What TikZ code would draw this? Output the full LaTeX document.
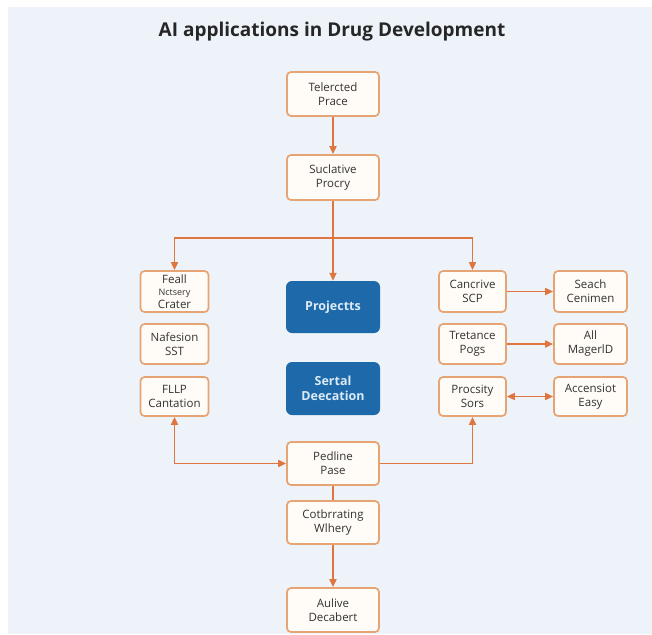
\documentclass[tikz,border=0pt]{standalone}
\usepackage{fontspec}
\setmainfont{Open Sans}
\usetikzlibrary{arrows.meta}
\definecolor{bgpanel}{HTML}{EDF3F8}
\definecolor{edgeor}{HTML}{E0763F}
\definecolor{boxline}{HTML}{E6A475}
\definecolor{boxfill}{HTML}{FFFCF7}
\definecolor{blueblk}{HTML}{1D69A9}
\definecolor{bluetxt}{HTML}{DCEAF6}
\definecolor{txtgray}{HTML}{333333}
\tikzset{
  stagebox/.style={draw=boxline, fill=boxfill, line width=1.7pt, rounded corners=4pt,
    minimum width=92pt, minimum height=44pt, align=center, inner sep=1pt,
    text=txtgray, font=\fontsize{11.5}{14}\selectfont},
  sidebox/.style={stagebox, minimum width=68pt, minimum height=40pt},
  farbox/.style={stagebox, minimum width=73pt, minimum height=40pt},
  bluebox/.style={draw=none, fill=blueblk, rounded corners=6pt, minimum width=94pt,
    minimum height=52pt, align=center, text=bluetxt,
    font=\fontsize{12.5}{15}\selectfont\bfseries},
  flow/.style={draw=edgeor, line width=1.7pt, -{Triangle[length=8pt,width=7pt]}},
  flowboth/.style={draw=edgeor, line width=1.7pt,
    {Triangle[length=8pt,width=7pt]}-{Triangle[length=8pt,width=7pt]}},
  link/.style={draw=edgeor, line width=1.7pt}
}
\begin{document}
\begin{tikzpicture}[x=1pt,y=-1pt]
\useasboundingbox (0,0) rectangle (652,634);
\fill[white] (0,0) rectangle (652,634);
\fill[bgpanel] (8,7) rectangle (652,634);

\node[font=\fontsize{19}{22}\selectfont\bfseries, text=black!85] (title) at (332,32)
  {AI applications in Drug Development};

% central column
\node[stagebox] (t1) at (333,94) {Telercted\\Prace};
\node[stagebox, minimum height=45pt] (t2) at (333,177.5) {Suclative\\Procry};
\node[bluebox] (bp) at (333,307) {Projectts};
\node[bluebox, minimum height=53pt] (bs) at (333,388.5) {Sertal\\Deecation};
\node[stagebox, minimum height=43pt] (pp) at (333,463.5) {Pedline\\Pase};
\node[stagebox, minimum height=43pt] (cw) at (333,522.5) {Cotbrrating\\Wlhery};
\node[stagebox] (ad) at (333,610) {Aulive\\Decabert};

% left column
\node[sidebox, minimum height=41pt] (la) at (174.5,291.5)
  {Feall\\[-2pt]{\fontsize{9}{10}\selectfont Nctsery}\\[-1pt]Crater};
\node[sidebox] (lb) at (174.5,344) {Nafesion\\SST};
\node[sidebox, minimum height=39pt] (lc) at (174.5,396.5) {FLLP\\Cantation};

% right column
\node[sidebox, minimum width=67pt, minimum height=41pt] (ra) at (472.5,291.5) {Cancrive\\SCP};
\node[sidebox, minimum width=67pt] (rb) at (472.5,344) {Tretance\\Pogs};
\node[sidebox, minimum width=67pt, minimum height=39pt] (rc) at (472.5,396.5) {Procsity\\Sors};

% far right column
\node[farbox, minimum height=41pt] (fa) at (590.5,291.5) {Seach\\Cenimen};
\node[farbox] (fb) at (590.5,344) {All\\MagerlD};
\node[farbox, minimum height=39pt] (fc) at (590.5,396.5) {Accensiot\\Easy};

% branching bar under the second stage
\coordinate (bar) at (333,238);
\draw[flow] (t1) -- (t2);
\draw[flow] (t2) -- (bp);
\draw[flow] (bar) -| (la.north);
\draw[flow] (bar) -| (ra.north);

% right side links
\draw[flow] (ra) -- (fa);
\draw[flow] (rb) -- (fb);
\draw[flowboth] (rc) -- (fc);

% lower feedback paths
\draw[flowboth] (lc.south) |- (pp.west);
\draw[flow] (pp.east) -| (rc.south);
\draw[link] (pp) -- (cw);
\draw[flow] (cw) -- (ad);
\end{tikzpicture}
\end{document}
